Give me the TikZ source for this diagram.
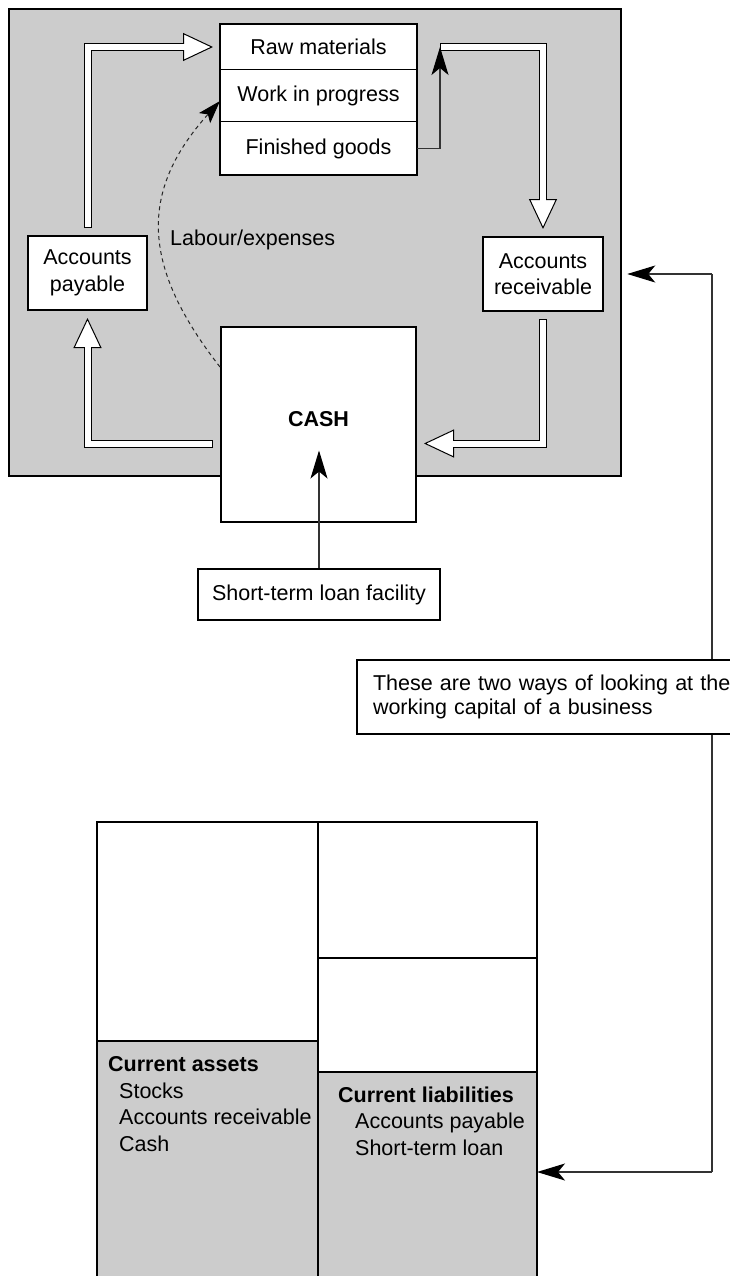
\documentclass[tikz,border=0pt]{standalone}
\usepackage{fontspec}
\setmainfont{Liberation Sans}
\usepackage{xcolor}
\usepackage{tikz}
\usetikzlibrary{arrows.meta, positioning}

\definecolor{panelgray}{gray}{0.8}

\begin{document}
\begin{tikzpicture}[
      x=1pt, y=1pt,
      txt/.style={font=\fontsize{21.5}{26.5}\selectfont},
      panel/.style={draw, line width=2.5pt, fill=panelgray, inner sep=0pt},
      box/.style={draw, line width=2pt, fill=white, align=center, inner sep=0pt, txt},
      row/.style={draw, line width=1pt, fill=white, minimum width=197pt,
        inner sep=0pt, outer sep=0pt, txt},
      sheet/.style={draw, line width=1.3pt, inner sep=0pt, outer sep=0pt},
      list/.style={txt, align=left, inner sep=0pt, anchor=north west},
      link/.style={draw=black!80, line width=1.2pt},
      blk/.style={link, -{Stealth[length=28pt, width=17pt, inset=7pt, color=black]}},
      dashedarr/.style={draw=black!85, line width=1pt, dash pattern=on 4pt off 3.5pt,
        -{Stealth[length=23pt, width=15pt, inset=5pt, color=black]}},
      hollowout/.style={draw=black, line width=8pt,
        -{Triangle[open, fill=white, length=30pt, width=28pt, line width=1pt]}},
      hollowin/.style={draw=white, line width=6pt}
    ]
    \useasboundingbox (0,0) rectangle (730,-1276);
    \clip (0,0) rectangle (730,-1276);

    \node[panel, minimum width=612pt, minimum height=467pt] (panel) at (315,-242.5) {};
    \node[row, minimum height=46pt] (raw) at (318.5,-47) {Raw materials};
    \node[row, minimum height=52pt, below=0pt of raw] (wip) {Work in progress};
    \node[row, minimum height=53pt, below=0pt of wip] (fin) {Finished goods};
    \draw[line width=2pt] (raw.north west) rectangle (fin.south east);
    \node[box, minimum width=119pt, minimum height=74pt] (payable) at (87.5,-273) {Accounts\\payable};
    \node[box, minimum width=120pt, minimum height=74pt] (receivable) at (543,-274) {Accounts\\receivable};
    \node[box, minimum width=195pt, minimum height=195pt] (cash) at (318.5,-424.5) {\raisebox{12pt}{\textbf{CASH}}};
    \node[box, minimum width=242pt, minimum height=51pt] (loan) at (319,-594.5) {Short-term loan facility};
    \node[txt, inner sep=0pt, anchor=west] (labour) at (170,-240) {Labour/expenses};
    \coordinate (turn) at ([xshift=23pt]raw.east);

    \draw[hollowout, shorten <=7pt, shorten >=7pt] (payable.north) |- (raw.west);
    \draw[hollowin, shorten <=8pt, shorten >=35pt] (payable.north) |- (raw.west);
    \draw[hollowout, shorten >=7pt] (turn) -| (receivable.north);
    \draw[hollowin, shorten <=1pt, shorten >=35pt] (turn) -| (receivable.north);
    \draw[hollowout, shorten <=7pt, shorten >=7pt] (receivable.south) |- ([yshift=-19pt]cash.east);
    \draw[hollowin, shorten <=8pt, shorten >=35pt] (receivable.south) |- ([yshift=-19pt]cash.east);
    \draw[hollowout, shorten <=7pt, shorten >=7pt] ([yshift=-19.5pt]cash.west) -| (payable.south);
    \draw[hollowin, shorten <=8pt, shorten >=35pt] ([yshift=-19.5pt]cash.west) -| (payable.south);

    \draw[blk] (fin.east) -| (turn);
    \draw[blk, shorten >=26pt] (loan.north) -- (loan.north |- cash.center);
    \draw[dashedarr] ([yshift=-41pt]cash.north west) to[out=128, in=228, looseness=1.2] ([yshift=-5pt]wip.west);

    \node[sheet, anchor=north west, minimum width=221pt, minimum height=219pt] (fixed) at (97,-822) {};
    \node[sheet, fill=panelgray, minimum width=221pt, minimum height=260pt, below=0pt of fixed] (curassets) {};
    \node[sheet, anchor=north west, minimum width=219pt, minimum height=136pt] (equity) at (fixed.north east) {};
    \node[sheet, minimum width=219pt, minimum height=114pt, below=0pt of equity] (longterm) {};
    \node[sheet, fill=panelgray, minimum width=219pt, minimum height=230pt, below=0pt of longterm] (curliab) {};
    \node[list] (catext) at (108,-1056.5) {\textbf{Current assets}\\\hspace*{11pt}Stocks\\\hspace*{11pt}Accounts receivable\\\hspace*{11pt}Cash};
    \node[list] (cltext) at (338,-1086.5) {\textbf{Current liabilities}\\\hspace*{17pt}Accounts payable\\\hspace*{17pt}Short-term loan};

    \coordinate (hi) at (712,-274);
    \coordinate (lo) at (712,-1172);
    \draw[link] (hi) -- (lo);
    \draw[blk, shorten >=5pt] (hi) -- (hi -| panel.east);
    \draw[blk] (lo) -- (lo -| curliab.east);
    \node[box, anchor=west, align=left, text width=390pt, inner xsep=16pt, minimum height=74pt,
      font=\fontsize{21.5}{24.5}\selectfont] (note) at (356,-697)
      {These are two ways of looking at the\\working capital of a business};
  \end{tikzpicture}
\end{document}
